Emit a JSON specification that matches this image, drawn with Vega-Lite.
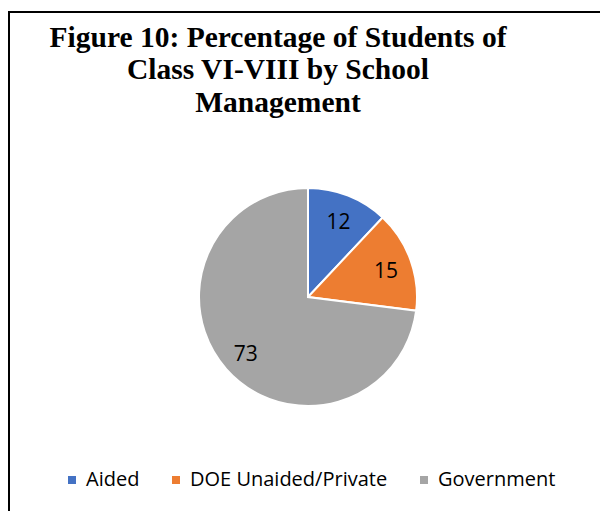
{
  "$schema": "https://vega.github.io/schema/vega-lite/v6.json",
  "autosize": "none",
  "width": 598,
  "height": 570,
  "padding": {"left": 9, "top": 12, "right": 0, "bottom": 0},
  "background": "white",
  "view": {"stroke": "black", "strokeWidth": 2},
  "config": {"view": {"stroke": "black", "strokeWidth": 2}},
  "title": {
    "text": ["Figure 10: Percentage of Students of", "Class VI-VIII by School", "Management"],
    "font": "Liberation Serif",
    "fontSize": 29.5,
    "fontWeight": "bold",
    "color": "black",
    "lineHeight": 32.5,
    "anchor": "middle",
    "align": "center",
    "dx": -30,
    "offset": -106
  },
  "data": {
    "values": [
      {"management": "Aided", "percent": 12},
      {"management": "DOE Unaided/Private", "percent": 15},
      {"management": "Government", "percent": 73}
    ]
  },
  "encoding": {
    "theta": {"field": "percent", "type": "quantitative", "stack": true}
  },
  "layer": [
    {
      "mark": {"type": "arc", "outerRadius": 109, "stroke": "white", "strokeWidth": 2},
      "encoding": {
        "color": {
          "field": "management",
          "type": "nominal",
          "scale": {
            "domain": ["Aided", "DOE Unaided/Private", "Government"],
            "range": ["#4472C4", "#ED7D31", "#A5A5A5"]
          },
          "legend": {
            "orient": "none",
            "legendX": 53,
            "legendY": 458,
            "direction": "horizontal",
            "title": null,
            "padding": 0,
            "symbolType": "square",
            "symbolSize": 64,
            "symbolStrokeWidth": 0,
            "labelFont": "Open Sans",
            "labelFontSize": 20,
            "labelColor": "black",
            "labelOffset": 4,
            "labelLimit": 400,
            "columnPadding": 26
          }
        }
      }
    },
    {
      "mark": {"type": "text", "radius": 83, "dy": 3, "font": "Open Sans", "fontSize": 21, "align": "center", "baseline": "middle"},
      "encoding": {
        "text": {"field": "percent", "type": "quantitative"},
        "detail": {"field": "management", "type": "nominal"},
        "color": {"value": "black"}
      }
    }
  ]
}
